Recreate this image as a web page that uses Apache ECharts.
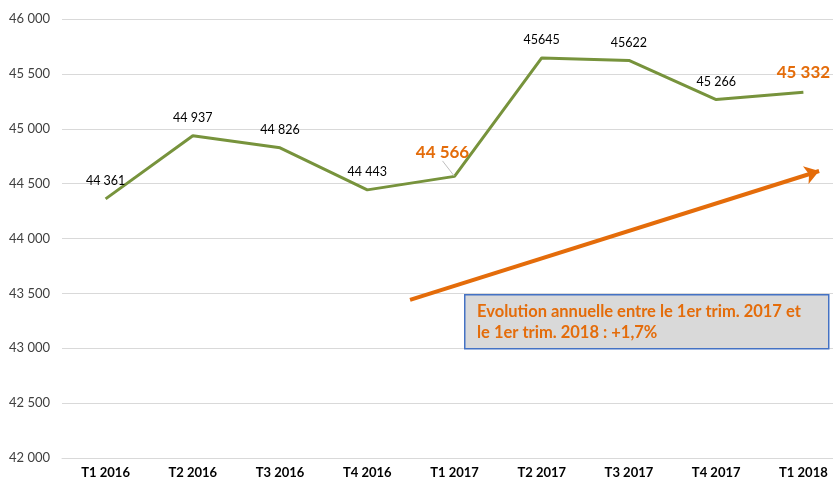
<!DOCTYPE html>
<html><head><meta charset="utf-8">
<script src="https://cdn.jsdelivr.net/npm/echarts@6/dist/echarts.min.js"></script>
<style>html,body{margin:0;padding:0;background:#fff}#c{width:833px;height:482px}</style>
</head><body><div id="c"></div>
<script>
const categories = ['T1 2016','T2 2016','T3 2016','T4 2016','T1 2017','T2 2017','T3 2017','T4 2017','T1 2018'];
const values = [44361, 44937, 44826, 44443, 44566, 45645, 45622, 45266, 45332];
const pointLabels = ['44 361','44 937','44 826','44 443','44 566','45645','45622','45 266','45 332'];
const highlighted = [4, 8];
const arrowStart = [3.49, 43440];
const arrowEnd = [8.18, 44615];
const yMin = 42000, yMax = 46000, yStep = 500;
const noteLines = ['Evolution annuelle entre le 1er trim. 2017 et', 'le 1er trim. 2018 : +1,7%'];

const FONT = 'Lato, "Liberation Sans", sans-serif';
const ORANGE = '#E46C0A';
const chart = echarts.init(document.getElementById('c'), null, {renderer:'canvas'});

const lineData = values.map((v, i) => {
  const item = {value: v};
  if (highlighted.includes(i)) {
    item.label = {color: ORANGE, fontSize: 17, fontWeight: 'bold'};
  }
  if (i === 4) {
    item.labelLine = {show: true, lineStyle: {color: '#BFBFBF', width: 1}};
  }
  return item;
});

chart.setOption({
  animation: false,
  textStyle: {fontFamily: FONT},
  grid: {left: 62, top: 19, width: 785, height: 439, containLabel: false, outerBoundsMode: 'none'},
  xAxis: [{
    type: 'category', data: categories, boundaryGap: true,
    axisLine: {lineStyle: {color: '#D9D9D9', width: 1}},
    axisTick: {show: false},
    axisLabel: {color: '#000', fontWeight: 'bold', fontSize: 13, fontFamily: FONT, margin: 8}
  }, {
    type: 'value', min: -0.5, max: 8.5, show: false
  }],
  yAxis: {
    type: 'value', min: yMin, max: yMax, interval: yStep,
    axisLine: {show: false}, axisTick: {show: false},
    splitLine: {lineStyle: {color: '#D9D9D9', width: 1}},
    axisLabel: {color: '#404040', fontSize: 13, fontFamily: FONT, margin: 12,
      formatter: v => String(v).replace(/\B(?=(\d{3})+(?!\d))/g, ' ')}
  },
  series: [{
    type: 'line', data: lineData, xAxisIndex: 0,
    symbol: 'circle', symbolSize: 1, showSymbol: true,
    itemStyle: {color: 'rgba(0,0,0,0)', borderWidth: 0},
    lineStyle: {color: '#77933C', width: 3},
    label: {show: true, position: 'top', distance: 11, color: '#000', fontSize: 12.5, fontFamily: FONT,
      formatter: p => pointLabels[p.dataIndex]},
    labelLine: {show: false},
    labelLayout: p => {
      if (p.dataIndex === 4) return {dx: -12, dy: -4};
      return {};
    },
    emphasis: {disabled: true},
    z: 3
  }, {
    type: 'lines', coordinateSystem: 'cartesian2d', xAxisIndex: 1, yAxisIndex: 0,
    symbol: ['none', 'arrow'], symbolSize: [0, 14],
    lineStyle: {color: ORANGE, width: 4, opacity: 1},
    data: [{coords: [arrowStart, arrowEnd]}],
    z: 2
  }],
  graphic: [{
    type: 'rect', left: 464, top: 294, z: 10,
    shape: {width: 364, height: 54},
    style: {fill: '#D9D9D9', stroke: '#4472C4', lineWidth: 1.5}
  }, {
    type: 'text', left: 477, top: 301, z: 11,
    style: {text: noteLines.join('\n'), fill: ORANGE, font: 'bold 16.5px ' + FONT, lineHeight: 21}
  }]
});
</script></body></html>
